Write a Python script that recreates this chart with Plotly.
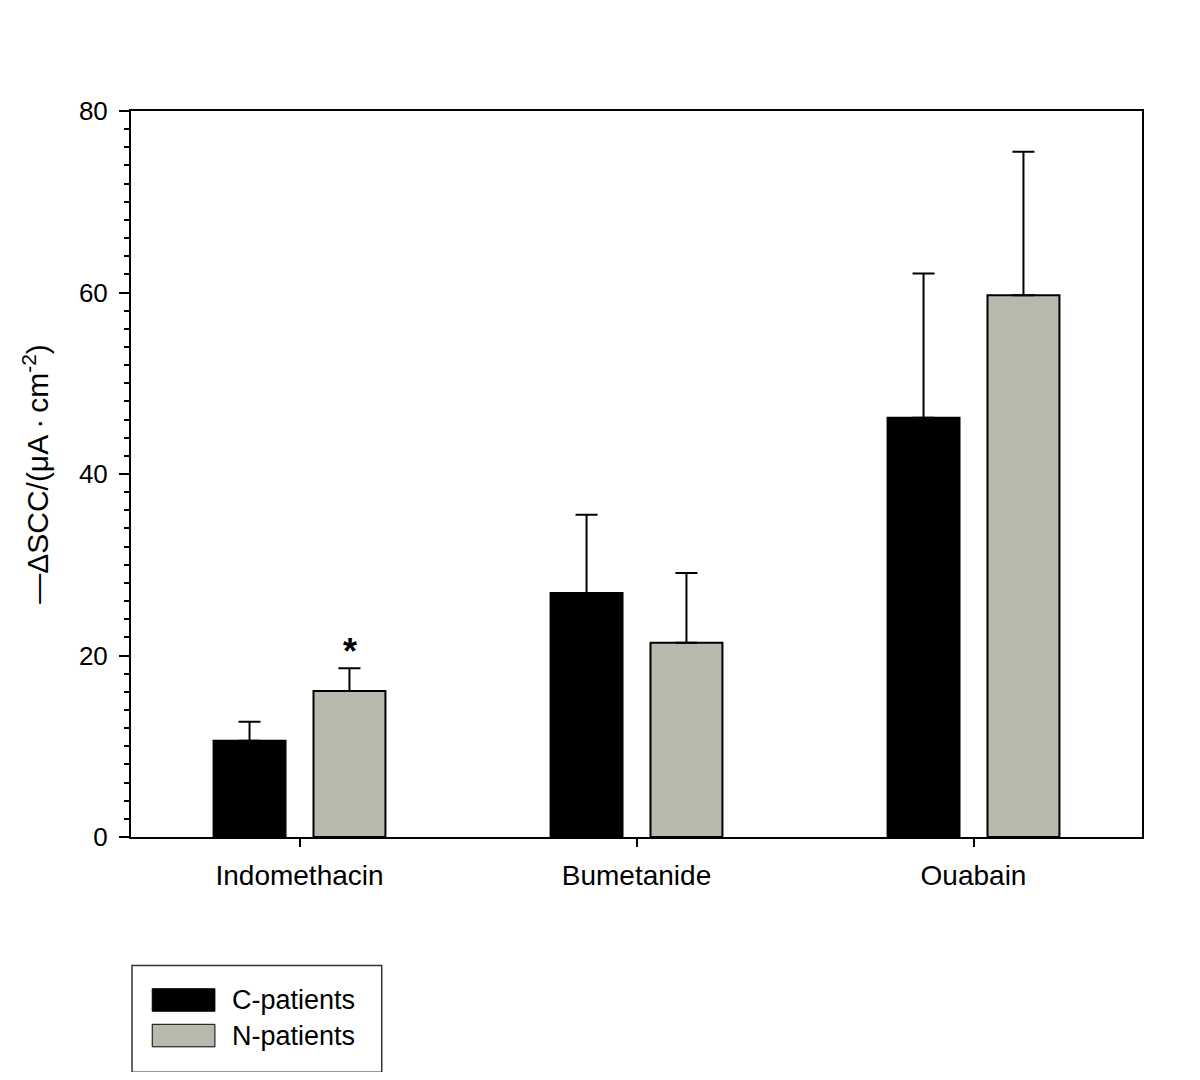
import plotly.graph_objects as go

categories = ["Indomethacin", "Bumetanide", "Ouabain"]
c_patients = [10.6, 26.9, 46.2]
c_err = [2.1, 8.6, 15.9]
n_patients = [16.1, 21.4, 59.7]
n_err = [2.5, 7.7, 15.8]
series_names = ["C-patients", "N-patients"]
y_ticks = [0, 20, 40, 60, 80]

FONT = "Liberation Sans, Arial, sans-serif"
GRAY = "#b8b8ac"

fig = go.Figure()
fig.add_trace(go.Bar(
    x=categories, y=c_patients, name=series_names[0],
    marker=dict(color="#000000", line=dict(color="#000000", width=2)),
    error_y=dict(type="data", array=c_err, arrayminus=[0, 0, 0], symmetric=False,
                 color="#000000", thickness=2, width=11),
    showlegend=False,
))
fig.add_trace(go.Bar(
    x=categories, y=n_patients, name=series_names[1],
    marker=dict(color=GRAY, line=dict(color="#000000", width=2)),
    error_y=dict(type="data", array=n_err, arrayminus=[0, 0, 0], symmetric=False,
                 color="#000000", thickness=2, width=11),
    showlegend=False,
))

fig.add_annotation(x=categories[0], y=n_patients[0] + n_err[0], xref="x", yref="y",
                   text="<b>*</b>", showarrow=False, xshift=50, yshift=-6, yanchor="bottom",
                   font=dict(family=FONT, size=36, color="#000000"))

# legend drawn as a boxed key below the plot
fig.add_shape(type="rect", xref="paper", yref="paper", x0=0.001, x1=0.248, y0=-0.324, y1=-0.177,
              line=dict(color="#333333", width=1.5), fillcolor="white")
fig.add_shape(type="rect", xref="paper", yref="paper", x0=0.021, x1=0.083, y0=-0.240, y1=-0.209,
              line=dict(color="#000000", width=1), fillcolor="#000000")
fig.add_shape(type="rect", xref="paper", yref="paper", x0=0.021, x1=0.083, y0=-0.289, y1=-0.258,
              line=dict(color="#000000", width=1), fillcolor=GRAY)
fig.add_annotation(x=0.098, y=-0.2245, xref="paper", yref="paper", text=series_names[0],
                   showarrow=False, xanchor="left", yanchor="middle",
                   font=dict(family=FONT, size=27, color="#000000"))
fig.add_annotation(x=0.098, y=-0.2735, xref="paper", yref="paper", text=series_names[1],
                   showarrow=False, xanchor="left", yanchor="middle",
                   font=dict(family=FONT, size=27, color="#000000"))

fig.update_layout(
    width=1184, height=1064,
    margin=dict(l=123, r=50, t=103, b=235),
    paper_bgcolor="white", plot_bgcolor="white",
    barmode="group", bargap=0.407, bargroupgap=0.28,
    font=dict(family=FONT, size=26, color="#000000"),
    showlegend=False,
)
fig.update_xaxes(
    showline=True, linecolor="#000000", linewidth=2, mirror=True,
    ticks="outside", ticklen=8, tickwidth=1.5, tickcolor="#000000",
    showgrid=False, tickfont=dict(size=28), ticklabelstandoff=4,
)
fig.update_yaxes(
    range=[0, 80], tickvals=y_ticks,
    showline=True, linecolor="#000000", linewidth=2, mirror=True,
    ticks="outside", ticklen=10, tickwidth=2, tickcolor="#000000",
    minor=dict(dtick=2, ticks="outside", ticklen=5, tickwidth=1.5, tickcolor="#000000", showgrid=False),
    showgrid=False, zeroline=False, tickfont=dict(size=26), ticklabelstandoff=6,
    title=dict(text="\u2014\u0394SCC/(\u03bcA\u2009\u00b7\u2009cm<sup>-2</sup>)", font=dict(size=30), standoff=21),
)

fig.write_html("out.html")
